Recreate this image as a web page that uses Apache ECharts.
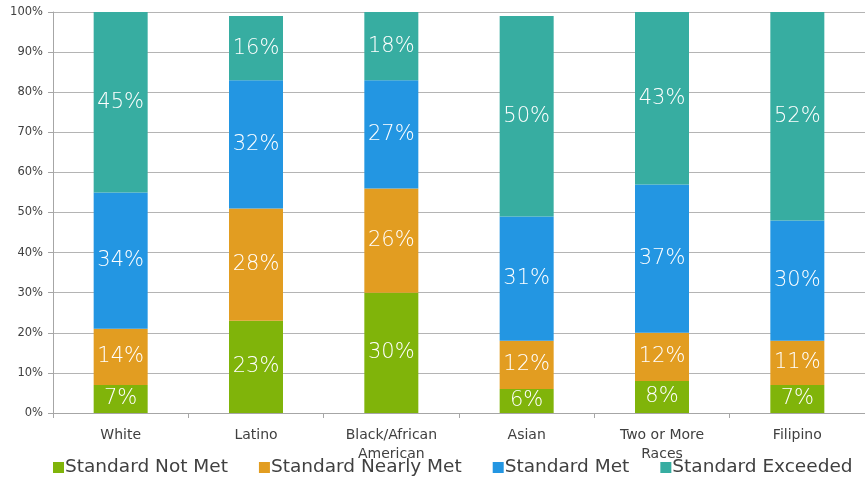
<!DOCTYPE html>
<html>
<head>
<meta charset="utf-8">
<script src="https://cdn.jsdelivr.net/npm/echarts@6/dist/echarts.min.js"></script>
<style>
  html, body { margin: 0; padding: 0; background: #fff; }
  #main { width: 865px; height: 483px; }
</style>
</head>
<body>
<div id="main"></div>
<script>
var categories = ['White', 'Latino', 'Black/African\nAmerican', 'Asian', 'Two or More\nRaces', 'Filipino'];
var notMet = [7, 23, 30, 6, 8, 7];
var nearlyMet = [14, 28, 26, 12, 12, 11];
var met = [34, 32, 27, 31, 37, 30];
var exceeded = [45, 16, 18, 50, 43, 52];

var font = 'DejaVu Sans';
var myChart = echarts.init(document.querySelector('#main'));

function makeSeries(name, data, color) {
    return {
        name: name,
        type: 'bar',
        stack: 'total',
        barWidth: 54,
        data: data,
        itemStyle: { color: color },
        label: {
            show: true,
            position: 'inside',
            formatter: '{c}%',
            color: '#fff',
            fontFamily: font,
            fontWeight: 200,
            fontSize: 21,
        },
    };
}

var option = {
    animation: false,
    grid: { left: 53, right: -7, top: 12, bottom: 70, containLabel: false },
    legend: {
        bottom: 1,
        left: 48,
        itemWidth: 11,
        itemHeight: 11,
        itemGap: 31,
        icon: 'rect',
        textStyle: { fontFamily: font, fontSize: 18.5, color: '#404040', padding: [0, 0, 0, -4] },
    },
    xAxis: {
        type: 'category',
        data: categories,
        axisLine: { lineStyle: { color: '#a6a6a6' } },
        axisTick: { show: true, length: 5, lineStyle: { color: '#a6a6a6' } },
        axisLabel: { fontFamily: font, fontSize: 14, color: '#404040', margin: 13, lineHeight: 19 },
    },
    yAxis: {
        type: 'value',
        min: 0,
        max: 100,
        interval: 10,
        axisLine: { show: true, lineStyle: { color: '#a6a6a6' } },
        axisTick: { show: true, length: 5, lineStyle: { color: '#a6a6a6' } },
        splitLine: { lineStyle: { color: '#b4b4b4' } },
        axisLabel: { formatter: '{value}%', fontFamily: font, fontSize: 11.5, color: '#404040', margin: 10 },
    },
    series: [
        makeSeries('Standard Not Met', notMet, '#80b40a'),
        makeSeries('Standard Nearly Met', nearlyMet, '#e29d21'),
        makeSeries('Standard Met', met, '#2396e2'),
        makeSeries('Standard Exceeded', exceeded, '#37ada1'),
    ],
};

myChart.setOption(option);
</script>
</body>
</html>
